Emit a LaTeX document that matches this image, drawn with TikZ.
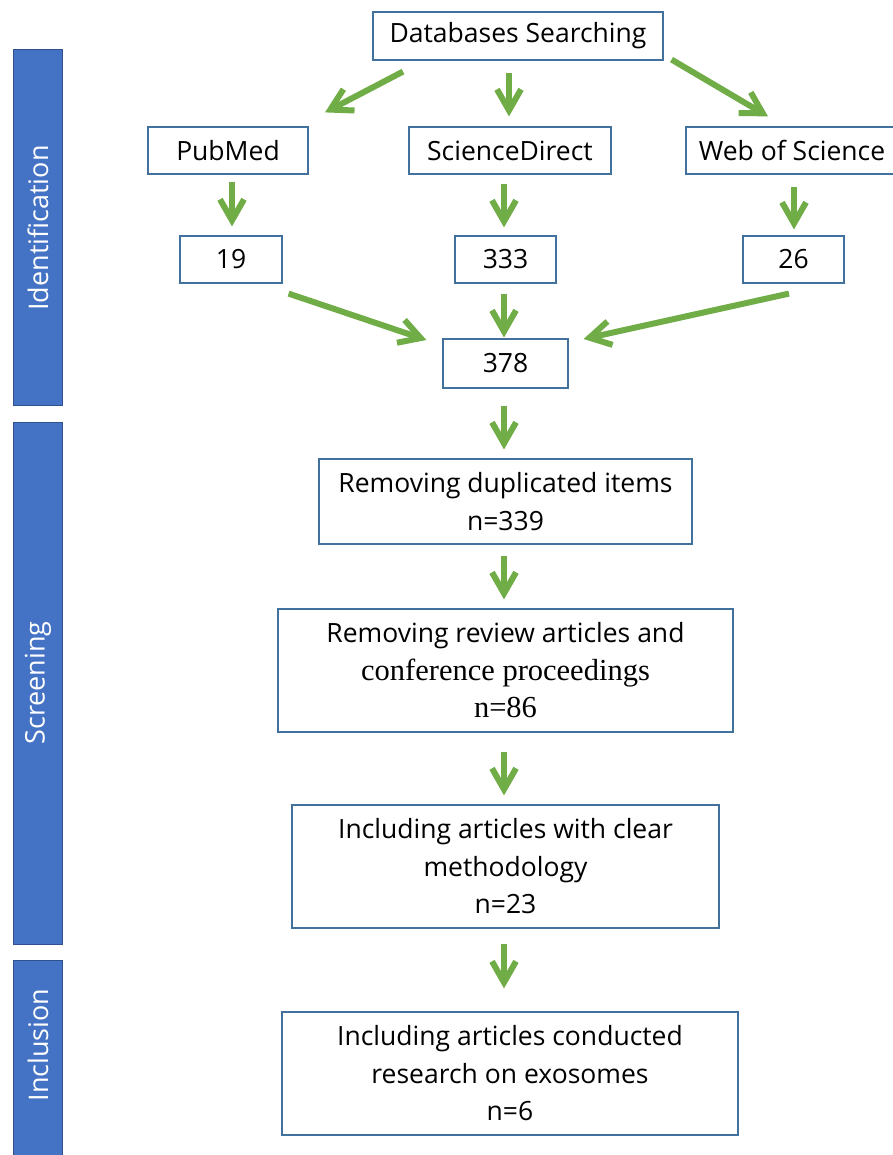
\documentclass[tikz,border=0pt]{standalone}
\usepackage{fontspec}
\setmainfont{Open Sans}
\newfontfamily\serifone{Liberation Serif}
\usetikzlibrary{arrows.meta}
\definecolor{grn}{HTML}{70AD47}
\definecolor{blu}{HTML}{4472C4}
\definecolor{bluedge}{HTML}{2F528F}
\definecolor{boxedge}{HTML}{41719C}
\begin{document}
\begin{tikzpicture}[x=1pt,y=-1pt,
  box/.style={draw=boxedge, line width=1.2pt, fill=white, inner sep=0pt, align=center,
    font=\fontsize{26.5}{37.5}\selectfont},
  bar/.style={draw=bluedge, line width=1pt, fill=blu, inner sep=0pt},
  barlabel/.style={rotate=90, text=white, inner sep=0pt, font=\fontsize{27}{30}\selectfont},
  arr/.style={draw=grn, line width=6pt, -{Straight Barb[length=21pt,width=24pt]}}]
\useasboundingbox (0,0) rectangle (892,1155);
\fill[white] (0,0) rectangle (892,1155);

% side bars
\node[bar, minimum width=49pt, minimum height=355pt] (idbar) at (37.5,227.5) {};
\node[bar, minimum width=49pt, minimum height=522pt] (scbar) at (37.5,683) {};
\node[bar, minimum width=49pt, minimum height=210pt] (inbar) at (37.5,1065) {};
\node[barlabel] (idlab) at (38,228) {Identification};
\node[barlabel] (sclab) at (38,683) {Screening};
\node[barlabel] (inlab) at (38,1045) {Inclusion};

% boxes
\node[box, minimum width=290pt, minimum height=48pt] (db) at (518,36) {Databases Searching};
\node[box, minimum width=160pt, minimum height=47pt] (pub) at (228,150.5) {PubMed};
\node[box, minimum width=202pt, minimum height=47pt] (sd) at (510,150.5) {ScienceDirect};
\node[box, minimum width=212pt, minimum height=47pt] (wos) at (792,150.5) {Web of Science};
\node[box, minimum width=102pt, minimum height=47pt] (n19) at (231,259.5) {19};
\node[box, minimum width=101pt, minimum height=47pt] (n333) at (505.5,259.5) {333};
\node[box, minimum width=101pt, minimum height=47pt] (n26) at (793.5,259.5) {26};
\node[box, minimum width=125pt, minimum height=49pt] (n378) at (505.5,363.5) {378};
\node[box, minimum width=373pt, minimum height=85pt] (dup) at (505.5,501.5)
  {Removing duplicated items\\n=339};
\node[box, minimum width=455pt, minimum height=123pt] (rev) at (505.5,670.5)
  {Removing review articles and\\{\serifone\fontsize{30.5}{37.5}\selectfont conference proceedings}\\{\serifone\fontsize{30.5}{37.5}\selectfont n=86}};
\node[box, minimum width=427pt, minimum height=123pt] (clr) at (505.5,866.5)
  {Including articles with clear\\methodology\\n=23};
\node[box, minimum width=456pt, minimum height=123pt] (exo) at (510,1073.5)
  {Including articles conducted\\research on exosomes\\n=6};

% arrows
\draw[arr] ([xshift=-115pt,yshift=-11pt]db.south) -- ([xshift=97pt,yshift=14pt]pub.north);
\draw[arr] ([xshift=-9pt,yshift=-12pt]db.south) -- ([xshift=-1pt,yshift=10pt]sd.north);
\draw[arr] ([xshift=8pt,yshift=1pt]db.south east) -- ([xshift=-24pt,yshift=10pt]wos.north);
\draw[arr] ([xshift=4pt,yshift=-7pt]pub.south) -- ([xshift=1pt,yshift=9pt]n19.north);
\draw[arr] ([xshift=-6pt,yshift=-9pt]sd.south) -- ([xshift=-1.5pt,yshift=8pt]n333.north);
\draw[arr] ([xshift=2pt,yshift=-12pt]wos.south) -- ([xshift=0.5pt,yshift=6pt]n26.north);
\draw[arr] ([xshift=6pt,yshift=-10pt]n19.south east) -- ([xshift=-16pt,yshift=23.5pt]n378.west);
\draw[arr] ([xshift=-1.5pt,yshift=-10pt]n333.south) -- ([xshift=-1.5pt,yshift=1pt]n378.north);
\draw[arr] ([xshift=-4.5pt,yshift=-10pt]n26.south) -- ([xshift=15pt,yshift=24.5pt]n378.east);
\draw[arr] ([xshift=-1.5pt,yshift=-17pt]n378.south) -- ([xshift=-1.5pt,yshift=9pt]dup.north);
\draw[arr] ([xshift=-1.5pt,yshift=-11pt]dup.south) -- ([xshift=-1.5pt,yshift=9pt]rev.north);
\draw[arr] ([xshift=-1.5pt,yshift=-19pt]rev.south) -- ([xshift=-1.5pt,yshift=9pt]clr.north);
\draw[arr] ([xshift=-1.5pt,yshift=-15pt]clr.south) -- ([xshift=-6pt,yshift=23pt]exo.north);
\end{tikzpicture}
\end{document}
